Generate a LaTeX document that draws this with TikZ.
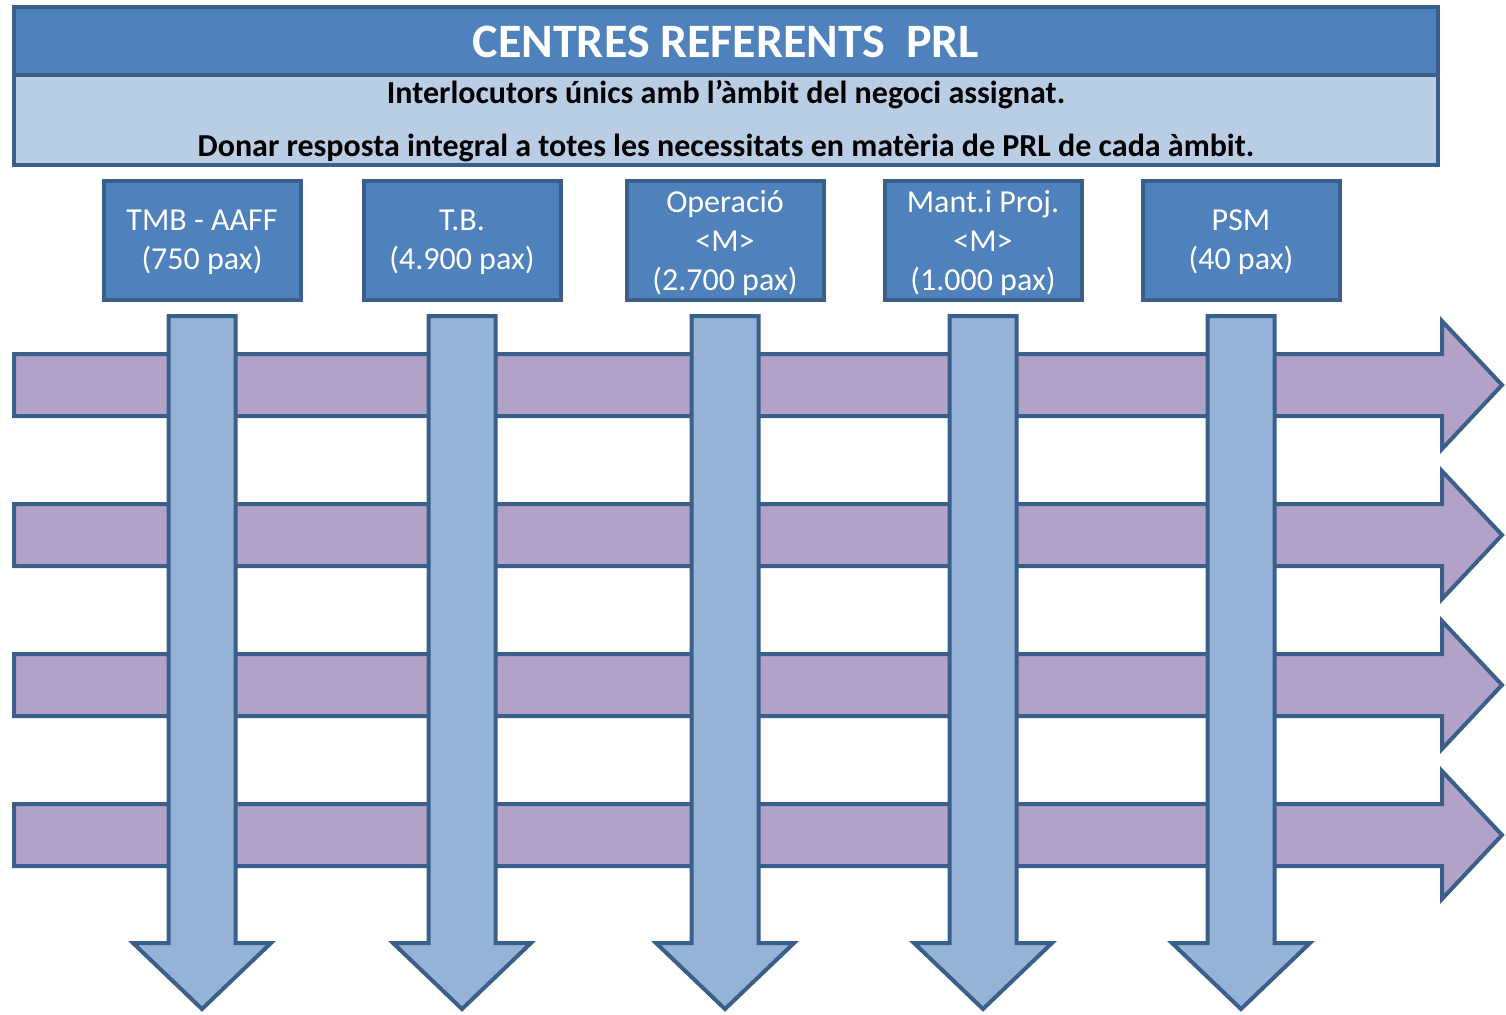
\documentclass[tikz,border=0pt]{standalone}
\usepackage{fontspec}
\setmainfont{Carlito}
\definecolor{edgeblue}{HTML}{3A5F8B}
\definecolor{headblue}{HTML}{4F81BD}
\definecolor{paleblue}{HTML}{B9CDE5}
\definecolor{downblue}{HTML}{95B3D7}
\definecolor{lilac}{HTML}{B3A2C7}
\begin{document}
\begin{tikzpicture}[x=0.5pt,y=-0.5pt,
  outline/.style={draw=edgeblue, line width=2pt},
  centre/.style={outline, fill=headblue, minimum width=98.5pt, minimum height=59.5pt,
    inner sep=0pt, text depth=0pt, text=white, align=center,
    font=\fontsize{16}{19.5}\selectfont},
  hband/.style={outline, fill=lilac},
  vband/.style={outline, fill=downblue}]
  \useasboundingbox (0,0) rectangle (1506,1014);

  % header
  \filldraw[outline, fill=paleblue] (14,7) rectangle (1438,165);
  \filldraw[outline, fill=headblue] (14,7) rectangle (1438,75);
  \node[text=white, font=\fontsize{24}{28}\selectfont\bfseries] (title) at (726,42)
    {CENTRES REFERENTS\ \ PRL};
  \node[anchor=base, font=\fontsize{16}{19}\selectfont\bfseries] (line1) at (726,103)
    {Interlocutors únics amb l’àmbit del negoci assignat.};
  \node[anchor=base, font=\fontsize{16}{19}\selectfont\bfseries] (line2) at (726,156)
    {Donar resposta integral a totes les necessitats en matèria de PRL de cada àmbit.};

  % horizontal arrows
  \foreach \y in {385,535,685,835} {
      \filldraw[hband] (14,\y-31) -- (1442,\y-31) -- (1442,\y-64) -- (1502,\y)
        -- (1442,\y+64) -- (1442,\y+31) -- (14,\y+31) -- cycle;
  }

  % centres and vertical arrows
  \foreach \i/\x/\txt in {1/202/{TMB - AAFF\\(750 pax)},
                          2/462/{T.B.\\(4.900 pax)},
                          3/725/{Operació\\<M>\\(2.700 pax)},
                          4/983/{Mant.i Proj.\\<M>\\(1.000 pax)},
                          5/1241/{PSM\\(40 pax)}} {
      \node[centre] (c\i) at (\x,240) {\txt};
      \filldraw[vband] (\x-33.5,316) -- (\x+33.5,316) -- (\x+33.5,943) -- (\x+69,943)
        -- (\x,1009) -- (\x-69,943) -- (\x-33.5,943) -- cycle;
  }
\end{tikzpicture}
\end{document}
